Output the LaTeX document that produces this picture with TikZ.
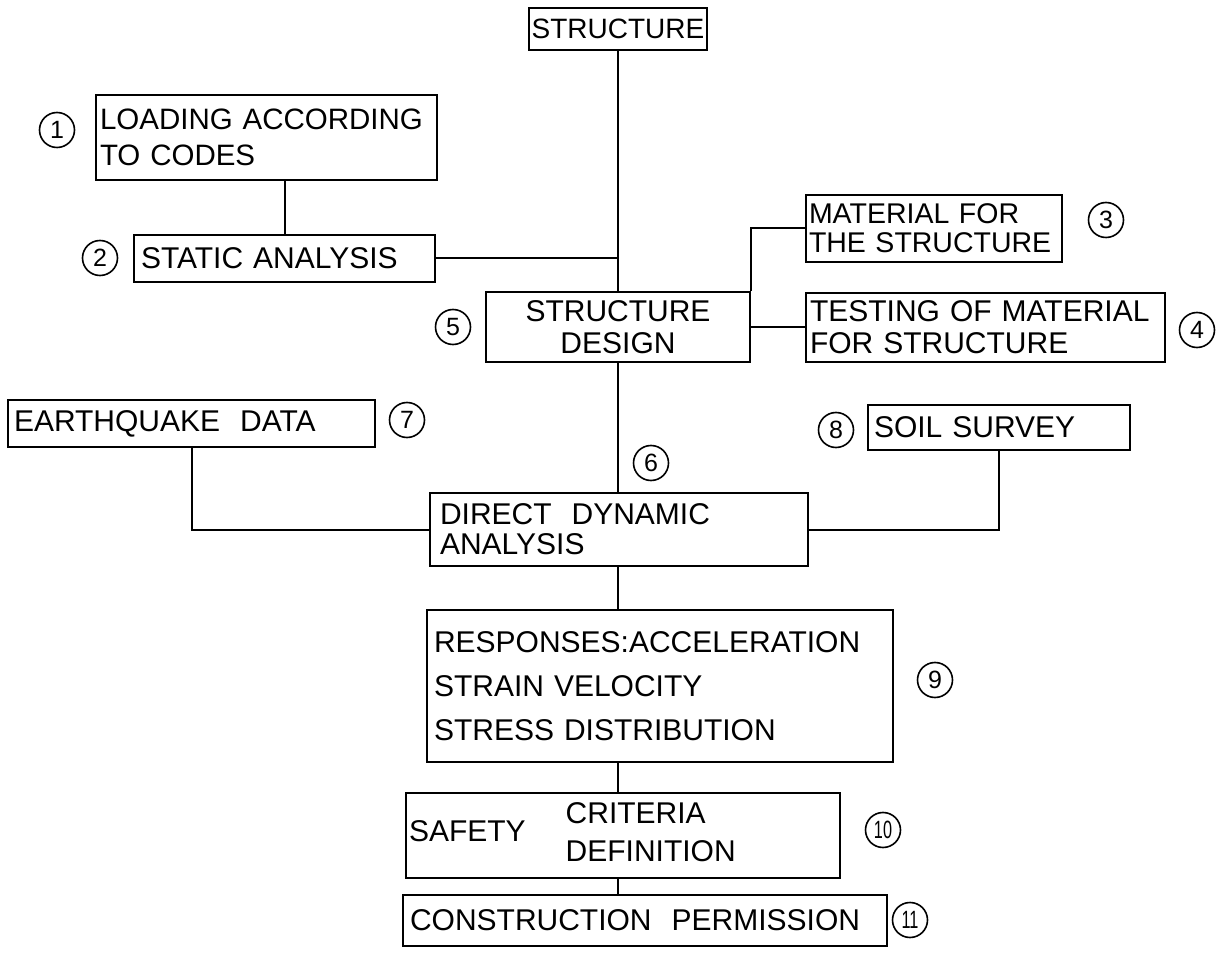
\documentclass[tikz,border=0pt]{standalone}
\usepackage{fontspec}
\setmainfont{Liberation Sans}
\begin{document}
\begin{tikzpicture}[x=1pt,y=-1pt,
  box/.style={draw, line width=2pt, inner sep=0pt, font=\fontsize{30}{34}\selectfont},
  num/.style={draw, circle, line width=1.6pt, minimum size=35pt, inner sep=0pt, font=\fontsize{25}{25}\selectfont},
  link/.style={line width=2pt}]
\useasboundingbox (0,0) rectangle (1227,973);

\node[box, minimum width=178pt, minimum height=42pt, font=\fontsize{28}{30}\selectfont] (struct) at (618,29) {STRUCTURE};
\node[box, minimum width=341pt, minimum height=85pt, text width=333pt, align=left, font=\fontsize{29.5}{36}\selectfont] (load) at (266.5,137.5) {\hyphenpenalty=10000 LOADING ACCORDING\\TO CODES};
\node[box, minimum width=301pt, minimum height=47pt, text width=287pt, align=left] (static) at (284.5,258.5) {STATIC ANALYSIS};
\node[box, minimum width=256pt, minimum height=67pt, text width=250pt, align=left, font=\fontsize{28.5}{29}\selectfont] (material) at (934,228.5) {MATERIAL FOR\\THE STRUCTURE};
\node[box, minimum width=264pt, minimum height=70pt, align=center, font=\fontsize{30}{32}\selectfont] (design) at (618,327) {STRUCTURE\\DESIGN};
\node[box, minimum width=359pt, minimum height=69pt, text width=351pt, align=left, font=\fontsize{30}{32}\selectfont] (testing) at (985.5,327.5) {TESTING OF MATERIAL\\FOR STRUCTURE};
\node[box, minimum width=367pt, minimum height=47pt, text width=355pt, align=left] (quake) at (191.5,423.5) {EARTHQUAKE\ \ DATA};
\node[box, minimum width=262pt, minimum height=45pt, text width=250pt, align=left] (soil) at (999,427.5) {SOIL SURVEY};
\node[box, minimum width=378pt, minimum height=73pt, text width=358pt, align=left, font=\fontsize{30}{30}\selectfont] (dda) at (619,529.5) {DIRECT\ \ DYNAMIC\\ANALYSIS};
\node[box, minimum width=466pt, minimum height=152pt, text width=452pt, align=left, font=\fontsize{30}{44}\selectfont] (resp) at (660,686) {RESPONSES:ACCELERATION\\STRAIN VELOCITY\\STRESS DISTRIBUTION};
\node[box, minimum width=434pt, minimum height=85pt, text width=428pt, align=left] (safety) at (623,835.5) {SAFETY\hspace{40pt}\begin{tabular}[c]{@{}l@{}}CRITERIA\\[4pt]DEFINITION\end{tabular}};
\node[box, minimum width=484pt, minimum height=51pt, text width=470pt, align=left] (perm) at (645,920.5) {CONSTRUCTION\ \ PERMISSION};

\node[num] (n1) at (57,130) {1};
\node[num] (n2) at (100,258) {2};
\node[num] (n3) at (1106,220) {3};
\node[num] (n4) at (1197,330) {4};
\node[num] (n5) at (453,327) {5};
\node[num] (n6) at (651,463) {6};
\node[num] (n7) at (407,420) {7};
\node[num] (n8) at (836,430) {8};
\node[num] (n9) at (935,680) {9};
\node[num] (n10) at (883,830) {\scalebox{0.65}[1]{10}};
\node[num] (n11) at (910,920) {\scalebox{0.65}[1]{11}};

\draw[link] (struct.south) -- (design.north);
\draw[link] (static.north) -- (static.north |- load.south);
\draw[link] (static.east) -- (static.east -| struct.south);
\draw[link] (material.west) -- (material.west -| design.east) -- (design.north east);
\draw[link] (testing.west -| design.east) -- (testing.west);
\draw[link] (design.south) -- (design.south |- dda.north);
\draw[link] (quake.south) |- (dda.west);
\draw[link] (soil.south) |- (dda.east);
\draw[link] (design.south |- dda.south) -- (design.south |- resp.north);
\draw[link] (design.south |- resp.south) -- (design.south |- safety.north);
\draw[link] (design.south |- safety.south) -- (design.south |- perm.north);
\end{tikzpicture}
\end{document}
